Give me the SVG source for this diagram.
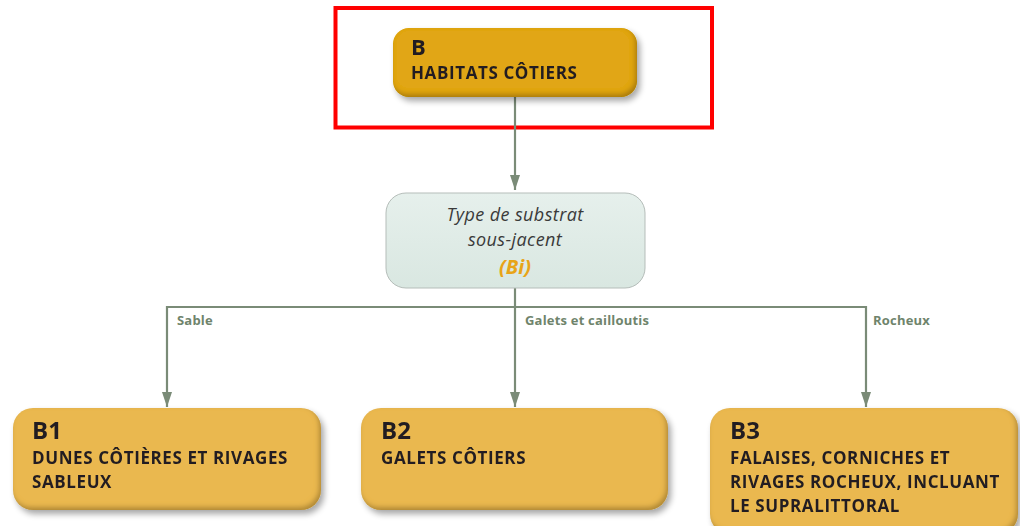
<svg xmlns="http://www.w3.org/2000/svg" width="1020" height="526" viewBox="0 0 1020 526">
<style>
  .t { font-family: "Open Sans", "Liberation Sans", sans-serif; font-weight: bold; fill: #231f20; }
  .code { font-size: 24px; }
  .lbl { font-size: 17px; letter-spacing: 0.6px; }
  .edge { font-family: "Open Sans", "Liberation Sans", sans-serif; font-weight: bold; font-size: 13px; letter-spacing: 0.2px; fill: #6f846c; }
  .conn { fill: none; stroke: #7a8b77; stroke-width: 2.2; }
  .q { font-family: "Open Sans", "Liberation Sans", sans-serif; font-style: italic; font-size: 18px; letter-spacing: 0.4px; fill: #3a3a3a; text-anchor: middle; }
</style>
<defs>
  <marker id="arr" markerWidth="16" markerHeight="12" refX="15" refY="6" orient="auto-start-reverse" markerUnits="userSpaceOnUse" viewBox="0 0 16 12">
    <path d="M0,1 L15,6 L0,11 Z" fill="#7a8b77"/>
  </marker>
  <filter id="sh" x="-10%" y="-20%" width="125%" height="150%">
    <feGaussianBlur in="SourceAlpha" stdDeviation="3"/>
    <feOffset dx="3" dy="4" result="o"/>
    <feComponentTransfer><feFuncA type="linear" slope="0.35"/></feComponentTransfer>
    <feMerge><feMergeNode/><feMergeNode in="SourceGraphic"/></feMerge>
  </filter>
  <filter id="bevel" x="-5%" y="-10%" width="110%" height="120%">
    <feGaussianBlur in="SourceAlpha" stdDeviation="2.5" result="b"/>
    <feOffset in="b" dx="-2" dy="-3" result="ob"/>
    <feComposite in="SourceAlpha" in2="ob" operator="out" result="inner"/>
    <feFlood flood-color="#5a3f00" flood-opacity="0.55"/>
    <feComposite in2="inner" operator="in" result="shade"/>
    <feMerge><feMergeNode in="SourceGraphic"/><feMergeNode in="shade"/></feMerge>
  </filter>
  <linearGradient id="mint" x1="0" y1="0" x2="0" y2="1">
    <stop offset="0" stop-color="#e6f0ec"/>
    <stop offset="1" stop-color="#d9e7e1"/>
  </linearGradient>
</defs>

<rect x="335.5" y="8" width="376.5" height="119.5" fill="none" stroke="#ff0000" stroke-width="4"/>

<g id="connectors">
  <path class="conn" d="M515,97 V190" marker-end="url(#arr)"/>
  <path class="conn" d="M515,288 V407" marker-end="url(#arr)"/>
  <path class="conn" d="M167,407 V307 H866 V407" marker-start="url(#arr)" marker-end="url(#arr)"/>
  <text class="edge" x="177" y="325">Sable</text>
  <text class="edge" x="525" y="325">Galets et cailloutis</text>
  <text class="edge" x="873" y="325">Rocheux</text>
</g>

<g id="node-B" filter="url(#sh)">
  <rect x="393" y="28" width="244" height="69" rx="16" fill="#e1a612" filter="url(#bevel)"/>
  <text class="t" x="411" y="55" style="font-size:22px">B</text>
  <text class="t lbl" x="411" y="79">HABITATS CÔTIERS</text>
</g>

<g id="node-Bi">
  <rect x="386" y="193" width="259" height="95" rx="20" fill="url(#mint)" stroke="#b5bdb9" stroke-width="1"/>
  <text class="q" x="515" y="221">Type de substrat</text>
  <text class="q" x="515" y="246">sous-jacent</text>
  <text class="q" x="515" y="274" style="font-weight:bold;fill:#e8a417;font-size:20px;letter-spacing:0">(Bi)</text>
</g>

<g id="node-B1" filter="url(#sh)">
  <rect x="13" y="408" width="308" height="102" rx="20" fill="#eab850" filter="url(#bevel)"/>
  <text class="t code" x="32" y="439">B1</text>
  <text class="t lbl" x="32" y="464">DUNES CÔTIÈRES ET RIVAGES</text>
  <text class="t lbl" x="32" y="488">SABLEUX</text>
</g>

<g id="node-B2" filter="url(#sh)">
  <rect x="361" y="408" width="307" height="102" rx="20" fill="#eab850" filter="url(#bevel)"/>
  <text class="t code" x="381" y="439">B2</text>
  <text class="t lbl" x="381" y="464">GALETS CÔTIERS</text>
</g>

<g id="node-B3" filter="url(#sh)">
  <rect x="710" y="408" width="308" height="126" rx="20" fill="#eab850" filter="url(#bevel)"/>
  <text class="t code" x="730" y="439">B3</text>
  <text class="t lbl" x="730" y="464">FALAISES, CORNICHES ET</text>
  <text class="t lbl" x="730" y="488">RIVAGES ROCHEUX, INCLUANT</text>
  <text class="t lbl" x="730" y="512">LE SUPRALITTORAL</text>
</g>
</svg>
